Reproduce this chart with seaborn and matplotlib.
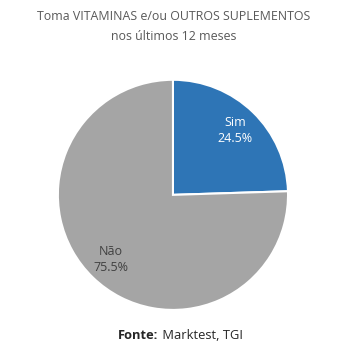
import matplotlib
matplotlib.use("Agg")
import matplotlib.pyplot as plt
import seaborn as sns

categories = ["Sim", "Não"]
values = [24.5, 75.5]
colors = ["#2E75B6", "#A5A5A5"]
label_colors = ["white", "#404040"]
title = "Toma VITAMINAS e/ou OUTROS SUPLEMENTOS\nnos últimos 12 meses"

sns.set_theme(style="white")
plt.rcParams['font.family'] = ['Open Sans', 'DejaVu Sans']

fig = plt.figure(figsize=(3.48, 3.53), dpi=100)
ax = fig.add_axes([0.497 - 0.331, 0.448 - 0.326, 0.662, 0.652])

wedges, texts, autotexts = ax.pie(
    values, colors=colors, startangle=90, counterclock=False,
    autopct="%1.1f%%", pctdistance=0.78,
    wedgeprops=dict(edgecolor="white", linewidth=1.5),
    textprops=dict(fontsize=9),
)
for t, cat, v, c in zip(autotexts, categories, values, label_colors):
    t.set_text(f"{cat}\n{v:.1f}%")
    t.set_color(c)
    t.set_linespacing(1.35)
ax.set_xlim(-1.0, 1.0)
ax.set_ylim(-1.0, 1.0)
ax.set_aspect("equal")
ax.axis("off")

fig.text(0.5, 0.925, title, ha="center", va="center", fontsize=8.9,
         color="#595959", linespacing=1.65)
fig.text(0.455, 0.05, "Fonte:", ha="right", va="center",
         fontsize=9.3, fontweight="bold", color="#262626")
fig.text(0.457, 0.05, " Marktest, TGI", ha="left", va="center",
         fontsize=9.3, color="#262626")

fig.savefig("out.png", dpi=100, facecolor="white")
